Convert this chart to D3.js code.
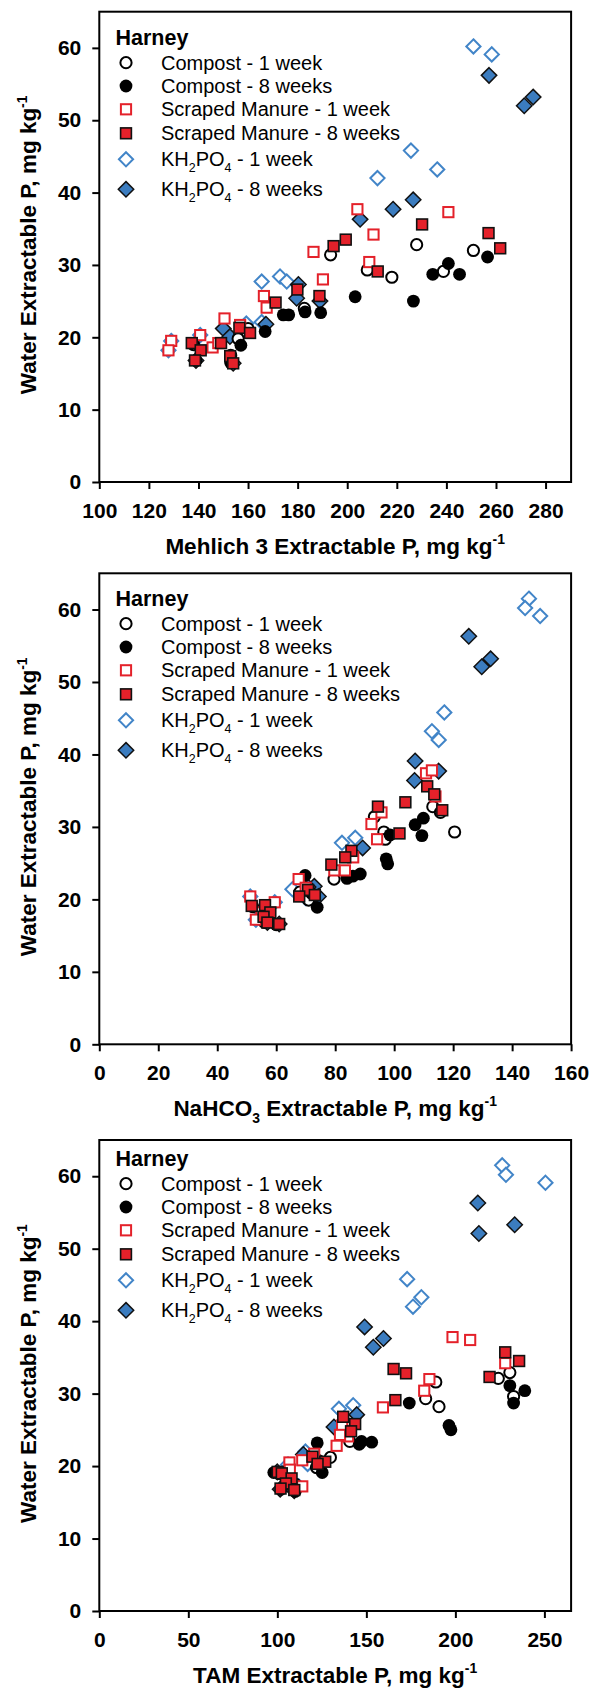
<!DOCTYPE html>
<html>
<head>
<meta charset="utf-8">
<script src="https://cdn.jsdelivr.net/npm/d3@7"></script>
<style>
  html, body { margin: 0; padding: 0; background: #fff; }
  svg { display: block; }
  text { font-family: "Liberation Sans", Arial, Helvetica, sans-serif; fill: #000; }
</style>
</head>
<body>
<svg id="chart" width="590" height="1688"></svg>
<script>
// ---- Tick values ----
const waterTicks   = [0, 10, 20, 30, 40, 50, 60];
const mehlichTicks = [100, 120, 140, 160, 180, 200, 220, 240, 260, 280];
const nahco3Ticks  = [0, 20, 40, 60, 80, 100, 120, 140, 160];
const tamTicks     = [0, 50, 100, 150, 200, 250];

// ---- Legend entries (label segments; "sub" marks a subscript) ----
const legendTitle = "Harney";
const legendLabels = [
  [["Compost - 1 week"]],
  [["Compost - 8 weeks"]],
  [["Scraped Manure - 1 week"]],
  [["Scraped Manure - 8 weeks"]],
  [["KH"], ["2", "sub"], ["PO"], ["4", "sub"], [" - 1 week"]],
  [["KH"], ["2", "sub"], ["PO"], ["4", "sub"], [" - 8 weeks"]]
];

// ---- Mehlich 3 extractable P vs water extractable P  [x, y] ----
const mehlichCompost1 = [[193.3,31.4],[228,32.8],[250.9,32.0],[208.1,29.3],[218,28.3],[238.8,29.1],[182.7,24.0],[160,21.2],[156,19.8],[153,17.5],[138,19.0]];
const mehlichCompost8 = [[256.6,31.1],[240.8,30.2],[234.5,28.7],[245.3,28.7],[203.2,25.6],[226.7,25.0],[174.2,23.1],[176.4,23.1],[183,23.5],[189.3,23.4],[166.9,20.8],[157.1,18.9],[139,16.8],[153,16.5]];
const mehlichManure1  = [[204.1,37.7],[240.8,37.3],[210.6,34.2],[186.4,31.8],[208.9,30.4],[190.2,28.0],[166.4,25.7],[167.5,24.1],[150.5,22.6],[156.8,21.7],[140.7,20.3],[129,19.5],[127.9,18.2],[145.7,18.6],[148,19.2]];
const mehlichManure8  = [[230.2,35.6],[257,34.4],[261.7,32.3],[194.5,32.6],[199.4,33.5],[212.3,29.1],[179.9,26.6],[188.8,25.7],[171.1,24.8],[156.5,21.3],[160.8,20.6],[149.1,19.2],[137.3,19.2],[140.9,18.2],[138.6,16.8],[152.8,17.4],[154,16.4]];
const mehlichKh1      = [[250.9,60.2],[258.3,59.1],[225.7,45.8],[212.2,42.0],[236.3,43.2],[165.5,27.7],[172.9,28.4],[175.6,27.7],[165.5,22.1],[159.3,21.9],[140.7,20.3],[129,19.5],[127.9,18.2]];
const mehlichKh8      = [[257.2,56.2],[271.4,52.0],[275,53.2],[205.2,36.3],[218.5,37.7],[226.6,39.0],[180.3,27.3],[179.6,25.4],[189,25.0],[167.2,21.8],[150,21.2],[152.7,20.1],[139,16.8],[154,16.4]];

// ---- NaHCO3 extractable P vs water extractable P ----
const nahco3Compost1 = [[93.3,31.4],[113.1,32.8],[115.7,32.0],[96.5,29.3],[97,28.3],[120.5,29.3],[79.6,22.8],[71,19.9],[68,21.0],[56,17.5],[52,19.0]];
const nahco3Compost8 = [[109.9,31.2],[107.1,30.3],[109.4,28.8],[98.6,28.9],[97.3,25.6],[97.8,24.9],[84,22.9],[69.8,23.3],[88.5,23.5],[86,23.2],[72,20.8],[73.9,18.9],[56,16.8],[60,16.5]];
const nahco3Manure1  = [[110.8,37.4],[112.8,37.8],[114,34.2],[95.7,32.0],[92.3,30.4],[94.2,28.3],[86.1,25.8],[79.7,24.0],[83.3,24.0],[67.6,22.8],[70,21.6],[51.2,20.4],[59.5,19.6],[55,18.2],[53.1,17.2]];
const nahco3Manure8  = [[111.2,35.6],[113.6,34.5],[116.3,32.3],[94.5,32.8],[103.8,33.4],[101.8,29.1],[85.5,26.7],[83.4,25.8],[78.7,24.8],[70.8,21.3],[73.1,20.6],[67.8,20.4],[56.2,19.2],[51.7,19.1],[58,18.2],[55.7,17.6],[57,16.8],[61,16.6]];
const nahco3Kh1      = [[145.7,61.5],[144.4,60.2],[149.5,59.1],[117,45.8],[112.8,43.2],[115.1,42.0],[82.3,27.8],[86.8,28.5],[65.5,21.4],[51.2,20.4],[59.5,19.6],[53.1,17.2],[70,20.2]];
const nahco3Kh8      = [[125.3,56.3],[129.7,52.1],[132.7,53.2],[107.1,39.1],[106.9,36.4],[115.1,37.7],[89.3,27.1],[72.9,21.8],[74.3,20.4],[57,16.8],[61,16.6],[70.8,21.7]];

// ---- TAM extractable P vs water extractable P ----
const tamCompost1 = [[189,31.6],[230.6,32.9],[224.1,32.1],[183.3,29.3],[190.8,28.2],[232.7,29.6],[140.7,23.4],[129.8,21.2],[122,19.8],[110,17.5],[101,19.0]];
const tamCompost8 = [[230.6,31.1],[239,30.4],[232.7,28.7],[174.1,28.7],[196.4,25.6],[197.5,25.0],[122.4,23.2],[153,23.3],[147.3,23.4],[146,23.0],[123,20.8],[125.2,19.1],[98,19.1],[102,16.8],[110,16.5]];
const tamManure1  = [[198.4,37.8],[208.3,37.4],[228,34.2],[185.4,32.0],[182.5,30.4],[159.3,28.1],[136.4,25.6],[139.7,24.1],[135.2,24.3],[133.3,22.8],[120.7,21.7],[114,20.8],[106.8,20.5],[107,19.5],[105,18.2],[114,17.2]];
const tamManure8  = [[228,35.7],[235.8,34.5],[219.2,32.3],[165.3,33.4],[172.3,32.8],[166.3,29.1],[137,26.8],[143.7,25.8],[141.4,24.8],[119.7,21.3],[126.9,20.6],[122.6,20.3],[100.2,19.2],[102.5,19.0],[108,18.3],[104.8,17.6],[101.8,16.9],[109.5,16.7]];
const tamKh1      = [[226.3,61.5],[228.4,60.2],[250.6,59.1],[172.9,45.8],[176.2,42.0],[180.9,43.3],[134.6,27.9],[142.6,28.4],[115.8,22.0],[117,20.3],[106,20.2],[112,17.2]];
const tamKh8      = [[212.6,56.3],[213.2,52.1],[233.3,53.3],[149,39.2],[153.9,36.4],[159.6,37.6],[144.6,27.1],[131.8,25.4],[114.6,21.6],[101.6,16.8],[109.5,16.6],[100,19.2]];

// ---- Marker styles, in legend order ----
const RED = "#e4212a", BLUE = "#3b7cbf", BLUE_LINE = "#4285c8";
const markerStyles = [
  { shape: "circle",  r: 5.6,  fill: "#fff", stroke: "#000", width: 2 },
  { shape: "circle",  r: 6.4,  fill: "#000", stroke: "#000", width: 0 },
  { shape: "square",  r: 5.1,  fill: "#fff", stroke: RED,    width: 2 },
  { shape: "square",  r: 5.4,  fill: RED,    stroke: "#111", width: 1.6 },
  { shape: "diamond", r: 7.1,  fill: "#fff", stroke: BLUE_LINE, width: 2 },
  { shape: "diamond", r: 7.7,  fill: BLUE,   stroke: "#111", width: 1.5 }
];
// Drawing order (bottom to top) as indices into the legend order
const drawOrder = [4, 5, 0, 1, 2, 3];

// ---- Panel layout ----
const frameLeft = 99.3, frameRight = 571.1;
const panels = [
  { top: 11.7,  bottom: 482,    legendY: 45,    xDomain: [100, 290.3], xTicks: mehlichTicks,
    title: [["Mehlich 3 Extractable P, mg kg"], ["-1", "sup"]],
    series: [mehlichCompost1, mehlichCompost8, mehlichManure1, mehlichManure8, mehlichKh1, mehlichKh8] },
  { top: 573.3, bottom: 1044.3, legendY: 606,   xDomain: [0, 160],     xTicks: nahco3Ticks,
    title: [["NaHCO"], ["3", "sub"], [" Extractable P, mg kg"], ["-1", "sup"]],
    series: [nahco3Compost1, nahco3Compost8, nahco3Manure1, nahco3Manure8, nahco3Kh1, nahco3Kh8] },
  { top: 1140,  bottom: 1611,   legendY: 1166,  xDomain: [0, 265],     xTicks: tamTicks,
    title: [["TAM Extractable P, mg kg"], ["-1", "sup"]],
    series: [tamCompost1, tamCompost8, tamManure1, tamManure8, tamKh1, tamKh8] }
];
const yTitle = [["Water Extractable P, mg kg"], ["-1", "sup"]];
const legendRowOffsets = [17.7, 41, 64.3, 88.3, 114.3, 144.3];

const svg = d3.select("#chart");

// Writes text segments (plain, subscript, superscript) into a text element;
// the baseline offset of a sub/superscript is undone on the following segment.
function writeSegments(textSel, segments, baseSize) {
  let carry = 0;
  segments.forEach(([str, kind]) => {
    const t = textSel.append("tspan").text(str);
    let shift = 0;
    if (kind === "sub") {
      shift = baseSize * 0.3;
      t.attr("font-size", baseSize * 0.62);
    } else if (kind === "sup") {
      shift = -baseSize * 0.42;
      t.attr("font-size", baseSize * 0.62);
    }
    const dy = carry + shift;
    if (dy !== 0) t.attr("dy", dy);
    carry = -shift;
  });
}

function drawMarker(g, style, cx, cy) {
  let el;
  if (style.shape === "circle") {
    el = g.append("circle").attr("cx", cx).attr("cy", cy).attr("r", style.r);
  } else if (style.shape === "square") {
    el = g.append("rect").attr("x", cx - style.r).attr("y", cy - style.r)
      .attr("width", 2 * style.r).attr("height", 2 * style.r);
  } else {
    const h = style.r;
    el = g.append("path").attr("d", `M${cx},${cy - h}L${cx + h},${cy}L${cx},${cy + h}L${cx - h},${cy}Z`);
  }
  el.attr("fill", style.fill)
    .attr("stroke", style.width ? style.stroke : "none")
    .attr("stroke-width", style.width)
    .attr("stroke-linejoin", "miter");
  return el;
}

panels.forEach(p => {
  const x = d3.scaleLinear().domain(p.xDomain).range([frameLeft, frameRight]);
  const y = d3.scaleLinear().domain([0, 65]).range([p.bottom, p.top]);
  const g = svg.append("g");

  // Axes
  const xAxis = g.append("g").attr("transform", `translate(0,${p.bottom})`)
    .call(d3.axisBottom(x).tickValues(p.xTicks).tickSize(7).tickPadding(14).tickSizeOuter(0));
  const yAxis = g.append("g").attr("transform", `translate(${frameLeft},0)`)
    .call(d3.axisLeft(y).tickValues(waterTicks).tickSize(7).tickPadding(11).tickSizeOuter(0));
  [xAxis, yAxis].forEach(a => {
    a.select(".domain").remove();
    a.selectAll(".tick line").attr("stroke", "#000").attr("stroke-width", 2);
    a.selectAll(".tick text")
      .attr("font-size", 21).attr("font-weight", "bold")
      .attr("font-family", '"Liberation Sans", Arial, sans-serif').attr("fill", "#000");
  });

  // Points
  const pts = g.append("g");
  drawOrder.forEach(si => {
    const style = markerStyles[si];
    p.series[si].forEach(d => drawMarker(pts, style, x(d[0]), y(d[1])));
  });

  // Frame
  g.append("rect")
    .attr("x", frameLeft).attr("y", p.top)
    .attr("width", frameRight - frameLeft).attr("height", p.bottom - p.top)
    .attr("fill", "none").attr("stroke", "#000").attr("stroke-width", 2);

  // Legend
  const lg = g.append("g");
  lg.append("text").attr("x", 115.5).attr("y", p.legendY)
    .attr("font-size", 21.5).attr("font-weight", "bold").text(legendTitle);
  legendLabels.forEach((label, i) => {
    const cy = p.legendY + legendRowOffsets[i];
    drawMarker(lg, markerStyles[i], 126, cy);
    const t = lg.append("text").attr("x", 161).attr("y", cy + 7).attr("font-size", 20);
    writeSegments(t, label, 20);
  });

  // X-axis title
  const xt = g.append("text")
    .attr("x", (frameLeft + frameRight) / 2).attr("y", p.bottom + 71.5)
    .attr("text-anchor", "middle").attr("font-size", 22.5).attr("font-weight", "bold");
  writeSegments(xt, p.title, 22.5);

  // Y-axis title
  const yt = g.append("text")
    .attr("transform", `translate(36,${(p.top + p.bottom) / 2 - 2}) rotate(-90)`)
    .attr("text-anchor", "middle").attr("font-size", 22.5).attr("font-weight", "bold");
  writeSegments(yt, yTitle, 22.5);
});
</script>
</body>
</html>
